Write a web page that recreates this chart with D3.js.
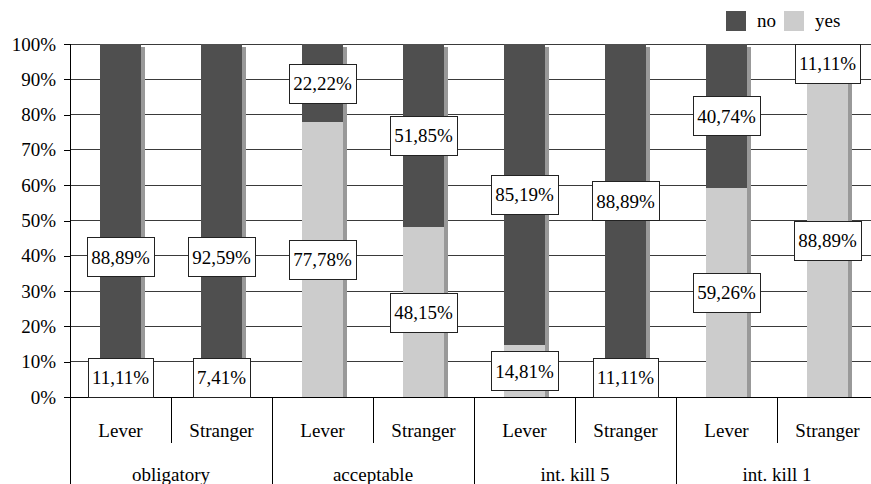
<!DOCTYPE html>
<html>
<head>
<meta charset="utf-8">
<script src="https://cdn.jsdelivr.net/npm/d3@7"></script>
<style>
  html, body { margin: 0; padding: 0; background: #fff; }
  svg { display: block; font-family: "Liberation Serif", "Times New Roman", serif; }
</style>
</head>
<body>
<svg id="chart" width="871" height="484"></svg>
<script>
// Groups and conditions along the bottom axis
const groups = ["obligatory", "acceptable", "int. kill 5", "int. kill 1"];
const conditions = ["Lever", "Stranger"];

// Share of answers per bar (group × condition), in percent
const yesValues = [11.11, 7.41, 77.78, 48.15, 14.81, 11.11, 59.26, 88.89];
const noValues  = [88.89, 92.59, 22.22, 51.85, 85.19, 88.89, 40.74, 11.11];

const seriesNames = ["no", "yes"];
const yTicks = [0, 10, 20, 30, 40, 50, 60, 70, 80, 90, 100];

const colors = { no: "#4f4f4f", yes: "#cccccc", shadow: "#999999" };

// Build one row per bar
const bars = [];
groups.forEach((g, gi) => conditions.forEach((c, ci) => {
  const i = gi * conditions.length + ci;
  bars.push({ key: g + "|" + c, group: g, condition: c, yes: yesValues[i], no: noValues[i] });
}));

const svg = d3.select("#chart");
const plotLeft = 70, plotRight = 878, plotTop = 44, plotBottom = 397;

const x = d3.scaleBand()
  .domain(bars.map(d => d.key))
  .range([plotLeft, plotRight])
  .paddingInner(0.6)
  .paddingOuter(0.3);
const step = x.step();

const y = d3.scaleLinear().domain([0, 100]).range([plotBottom, plotTop]);

// Horizontal grid lines
svg.append("g")
  .selectAll("line")
  .data(yTicks.filter(t => t > 0))
  .join("line")
  .attr("x1", plotLeft).attr("x2", plotRight)
  .attr("y1", d => y(d)).attr("y2", d => y(d))
  .attr("stroke", "#3a3a3a").attr("stroke-width", 1)
  .attr("shape-rendering", "crispEdges");

// Stack: "yes" at the bottom, "no" on top
const stack = d3.stack().keys(["yes", "no"]);
const layers = stack(bars);

// Drop shadow behind each full bar
svg.append("g")
  .selectAll("rect")
  .data(bars)
  .join("rect")
  .attr("x", d => x(d.key) + 4)
  .attr("y", d => y(d.yes + d.no) + 3)
  .attr("width", x.bandwidth())
  .attr("height", d => y(0) - y(d.yes + d.no) - 3)
  .attr("fill", colors.shadow)
  .attr("shape-rendering", "crispEdges");

svg.append("g")
  .selectAll("g")
  .data(layers)
  .join("g")
  .attr("fill", d => colors[d.key])
  .selectAll("rect")
  .data(d => d)
  .join("rect")
  .attr("x", d => x(d.data.key))
  .attr("y", d => y(d[1]))
  .attr("width", x.bandwidth())
  .attr("height", d => y(d[0]) - y(d[1]))
  .attr("shape-rendering", "crispEdges");

// Y axis
const yAxis = d3.axisLeft(y)
  .tickValues(yTicks)
  .tickFormat(d => d + "%")
  .tickSize(6)
  .tickPadding(8);
const ya = svg.append("g")
  .attr("transform", `translate(${plotLeft},0)`)
  .call(yAxis);
ya.select(".domain").attr("stroke", "#000").attr("shape-rendering", "crispEdges")
  .attr("d", `M-6,${plotTop}H0V${plotBottom}H-6`);
ya.selectAll(".tick line").attr("stroke", "#000").attr("shape-rendering", "crispEdges");
ya.selectAll(".tick text")
  .attr("fill", "#000")
  .style("font-family", '"Liberation Serif", serif')
  .style("font-size", "19px");

// Baseline
svg.append("line")
  .attr("x1", plotLeft).attr("x2", plotRight)
  .attr("y1", plotBottom).attr("y2", plotBottom)
  .attr("stroke", "#000").attr("shape-rendering", "crispEdges");

// Two-level category axis
const catG = svg.append("g");
bars.forEach((d, i) => {
  const bandLeft = x(d.key) - (step - x.bandwidth()) / 2;
  const cx = x(d.key) + x.bandwidth() / 2;
  const isGroupStart = i % conditions.length === 0;
  catG.append("line")
    .attr("x1", bandLeft).attr("x2", bandLeft)
    .attr("y1", plotBottom).attr("y2", isGroupStart ? 484 : 443)
    .attr("stroke", "#000").attr("shape-rendering", "crispEdges");
  catG.append("text")
    .attr("x", cx).attr("y", 437)
    .attr("text-anchor", "middle")
    .style("font-size", "19px")
    .text(d.condition);
});
groups.forEach((g, gi) => {
  const first = bars[gi * conditions.length];
  const last = bars[gi * conditions.length + conditions.length - 1];
  const cx = (x(first.key) + x(last.key) + x.bandwidth()) / 2;
  catG.append("text")
    .attr("x", cx).attr("y", 481)
    .attr("text-anchor", "middle")
    .style("font-size", "19px")
    .text(g);
});

// Value labels in white boxes, centred on their segment
const labelLift = { "obligatory": 39.7 };   // the large "no" labels of this group sit lower
const fmt = v => v.toFixed(2).replace(".", ",") + "%";
const boxH = 39, padX = 4;
const labelG = svg.append("g");
layers.forEach(layer => {
  layer.forEach(seg => {
    const d = seg.data;
    const v = d[layer.key];
    let level = (seg[0] + seg[1]) / 2;
    if (layer.key === "no" && labelLift[d.group] !== undefined) level = labelLift[d.group];
    let cy = y(level);
    cy = Math.min(cy, plotBottom - boxH / 2);
    const cx = x(d.key) + x.bandwidth() / 2;
    const g = labelG.append("g");
    const t = g.append("text")
      .attr("x", cx).attr("y", cy)
      .attr("text-anchor", "middle")
      .attr("dy", "0.35em")
      .style("font-size", "19px")
      .text(fmt(v));
    const w = t.node().getComputedTextLength() + padX * 2;
    g.insert("rect", "text")
      .attr("x", Math.round(cx - w / 2) + 0.5)
      .attr("y", Math.round(cy - boxH / 2) + 0.5)
      .attr("width", Math.round(w))
      .attr("height", boxH)
      .attr("fill", "#fff")
      .attr("stroke", "#222")
      .attr("stroke-width", 1);
  });
});

// Legend
const legend = svg.append("g");
const legendX = [726, 784];
seriesNames.forEach((s, i) => {
  legend.append("rect")
    .attr("x", legendX[i]).attr("y", 11)
    .attr("width", 20).attr("height", 20)
    .attr("fill", colors[s]);
  legend.append("text")
    .attr("x", legendX[i] + 31).attr("y", 27)
    .style("font-size", "19px")
    .text(s);
});
</script>
</body>
</html>
